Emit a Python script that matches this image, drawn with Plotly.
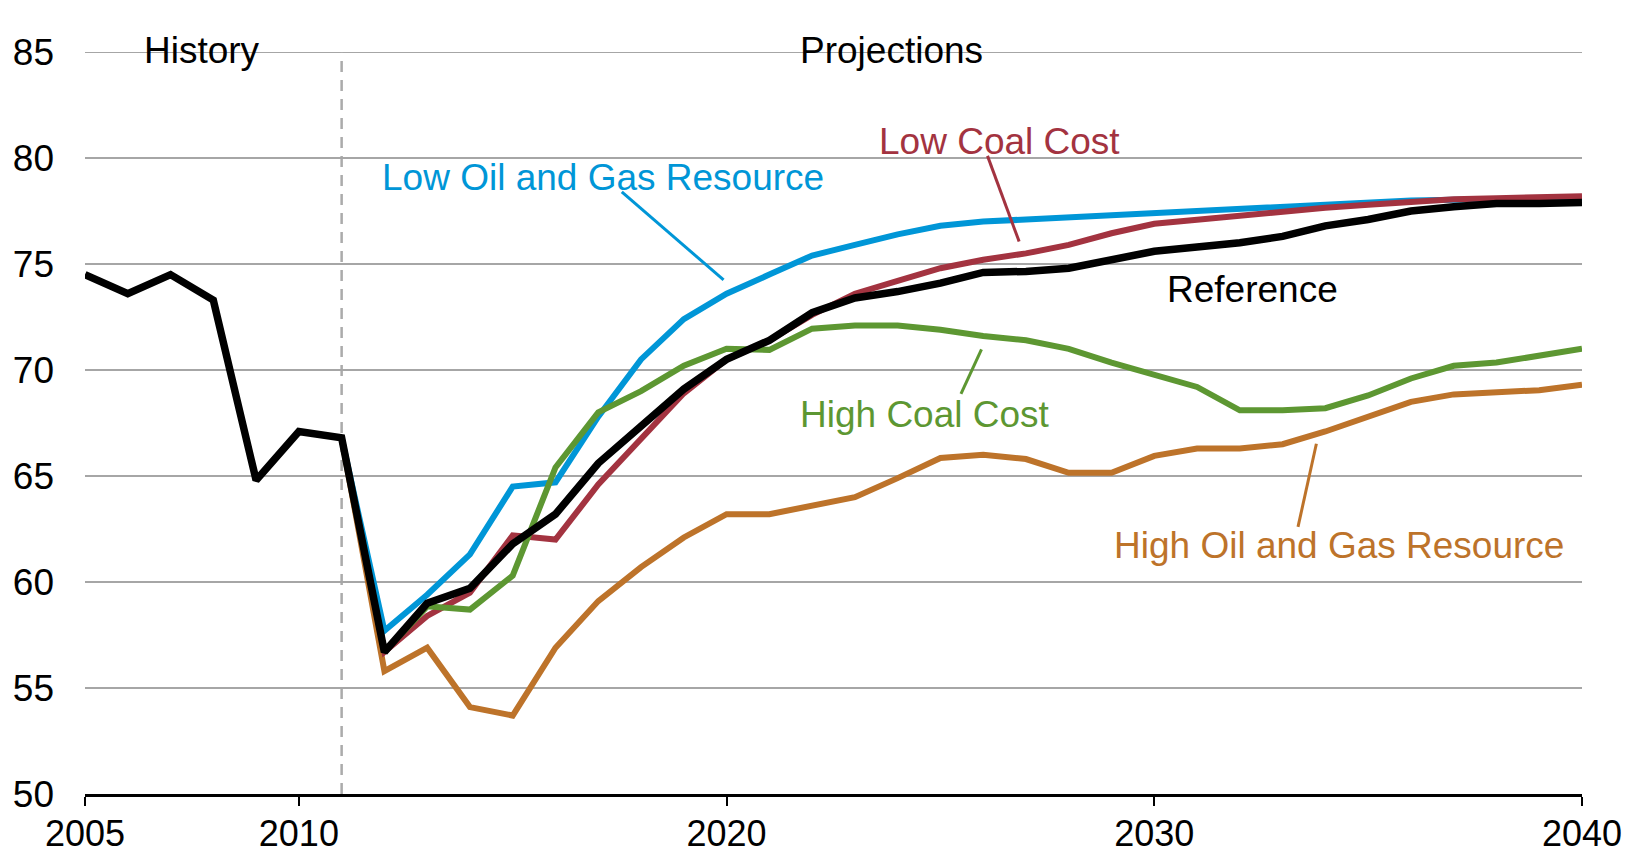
import plotly.graph_objects as go

# History (reference case, 2005-2011)
hist_years = [2005, 2006, 2007, 2008, 2009, 2010, 2011]
hist_values = [74.5, 73.6, 74.5, 73.3, 64.8, 67.1, 66.8]

# Projections 2011-2040
proj_years = list(range(2011, 2041))

reference = [66.8, 56.7, 59.0, 59.7, 61.8, 63.2, 65.6, 67.3, 69.1, 70.5,
             71.4, 72.7, 73.4, 73.7, 74.1, 74.6, 74.65, 74.8, 75.2, 75.6,
             75.8, 76.0, 76.3, 76.8, 77.1, 77.5, 77.7, 77.85, 77.85, 77.9]
low_coal_cost = [66.8, 56.7, 58.4, 59.5, 62.2, 62.0, 64.6, 66.7, 68.9, 70.5,
                 71.4, 72.6, 73.6, 74.2, 74.8, 75.2, 75.5, 75.9, 76.45, 76.9,
                 77.1, 77.3, 77.45, 77.65, 77.8, 77.95, 78.05, 78.1, 78.15, 78.2]
low_oil_gas = [66.8, 57.7, 59.4, 61.3, 64.5, 64.7, 67.8, 70.5, 72.4, 73.6,
               74.5, 75.4, 75.9, 76.4, 76.8, 77.0, 77.1, 77.2, 77.3, 77.4,
               77.55, 77.6, 77.7, 77.85, 77.9, 78.0, 78.03, 78.08, 78.08, 78.1]
high_coal_cost = [66.8, 56.7, 58.85, 58.7, 60.3, 65.4, 68.0, 69.0, 70.2, 71.0,
                  70.95, 71.95, 72.1, 72.1, 71.9, 71.6, 71.4, 71.0, 70.35, 69.8,
                  69.2, 68.1, 68.1, 68.2, 68.8, 69.6, 70.2, 70.35, 70.7, 71.0]
high_oil_gas = [66.8, 55.8, 56.9, 54.1, 53.7, 56.9, 59.1, 60.7, 62.1, 63.2,
                63.2, 63.6, 64.0, 64.9, 65.85, 66.0, 65.8, 65.15, 65.15, 65.95,
                66.3, 66.3, 66.5, 67.1, 67.8, 68.5, 68.85, 68.95, 69.05, 69.3]

BLACK = "#000000"
BLUE = "#0096D7"
RED = "#A33340"
GREEN = "#5D9732"
ORANGE = "#BD732A"
GRID = "#A6A6A6"
FONT = "Liberation Sans, Arial, sans-serif"

fig = go.Figure()

def add_line(x, y, color, width, name):
    fig.add_trace(go.Scatter(x=x, y=y, mode="lines", name=name,
                             line=dict(color=color, width=width),
                             showlegend=False, hoverinfo="x+y"))

add_line(proj_years, high_oil_gas, ORANGE, 6, "High Oil and Gas Resource")
add_line(proj_years, low_oil_gas, BLUE, 6, "Low Oil and Gas Resource")
add_line(proj_years, low_coal_cost, RED, 6, "Low Coal Cost")
add_line(proj_years, high_coal_cost, GREEN, 6, "High Coal Cost")
add_line(hist_years + proj_years[1:], hist_values + reference[1:], BLACK, 7.5, "Reference")

# History / projections divider
fig.add_shape(type="line", x0=2011, x1=2011, y0=50, y1=85, xref="x", yref="y",
              line=dict(color="#ABABAB", width=2.5, dash="11px,8px"), layer="below")
# top gridline at 85 (plotly skips the grid line on the range edge)
fig.add_shape(type="line", x0=0, x1=1, y0=85, y1=85, xref="paper", yref="y",
              line=dict(color=GRID, width=2), layer="below")

# Series labels with leader lines
labels = [
    ("Low Oil and Gas Resource", 2017.1, 79.1, BLUE, (2017.55, 78.4, 2019.93, 74.25)),
    ("Low Coal Cost", 2026.38, 80.8, RED, (2026.1, 80.1, 2026.84, 76.06)),
    ("Reference", 2032.3, 73.8, BLACK, None),
    ("High Coal Cost", 2024.63, 67.9, GREEN, (2025.96, 70.97, 2025.48, 68.87)),
    ("High Oil and Gas Resource", 2034.33, 61.74, ORANGE, (2033.79, 66.52, 2033.36, 62.6)),
]
for text, lx, ly, color, leader in labels:
    fig.add_annotation(x=lx, y=ly, text=text, showarrow=False, xref="x", yref="y",
                       font=dict(family=FONT, size=37, color=color))
    if leader:
        x0, y0, x1, y1 = leader
        fig.add_shape(type="line", x0=x0, y0=y0, x1=x1, y1=y1, xref="x", yref="y",
                      line=dict(color=color, width=3))

fig.add_annotation(x=2007.74, y=1.032, xref="x", yref="paper", text="History",
                   showarrow=False, font=dict(family=FONT, size=37, color=BLACK))
fig.add_annotation(x=2023.86, y=1.032, xref="x", yref="paper", text="Projections",
                   showarrow=False, font=dict(family=FONT, size=37, color=BLACK))

fig.update_layout(
    width=1625, height=853,
    margin=dict(l=85, r=43, t=52, b=59),
    plot_bgcolor="white", paper_bgcolor="white",
    font=dict(family=FONT, size=37, color=BLACK),
    xaxis=dict(range=[2005, 2040], tickvals=[2005, 2010, 2020, 2030, 2040],
               showgrid=False, zeroline=False, showline=True,
               linecolor=BLACK, linewidth=3, ticks="outside", ticklen=9,
               tickwidth=1.5, tickcolor=BLACK, automargin=False,
               ticklabelstandoff=-3, ticklabeloverflow="allow",
               tickfont=dict(size=36)),
    yaxis=dict(range=[50, 85], dtick=5, showgrid=True, gridcolor=GRID,
               gridwidth=2, zeroline=False, showline=False, ticks="",
               ticklabelstandoff=30, automargin=False, tickfont=dict(size=37)),
)

# drop the default page margin so the figure fills the window exactly
fig.write_html("out.html",
               config={"displayModeBar": False},
               post_script="document.body.style.margin='0';"
                           "document.body.style.overflow='hidden';")
